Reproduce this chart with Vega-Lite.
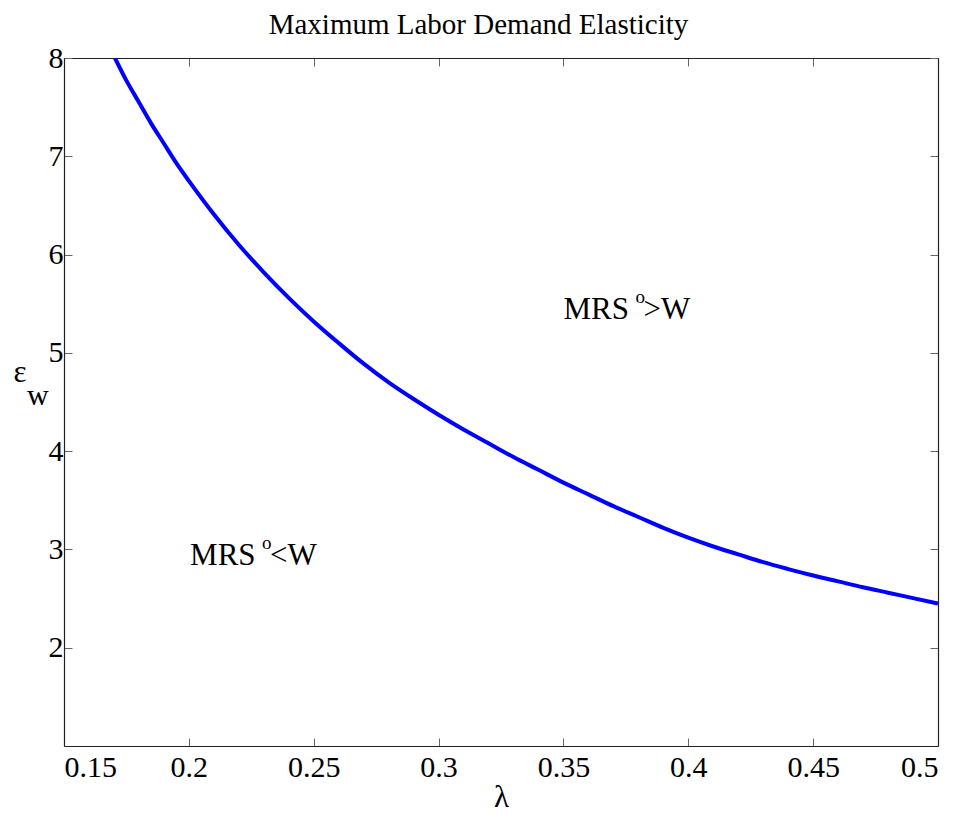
{
  "$schema": "https://vega.github.io/schema/vega-lite/v6.json",
  "width": 874,
  "height": 688,
  "autosize": {"type": "none"},
  "padding": {"left": 64, "top": 58, "right": 23, "bottom": 77},
  "background": "white",
  "config": {
    "view": {"stroke": null},
    "axis": {
      "grid": false,
      "domainColor": "#222",
      "domainWidth": 1.2,
      "tickColor": "#666",
      "tickWidth": 1,
      "tickSize": -8,
      "labelFont": "Liberation Serif",
      "labelFontSize": 30,
      "labelColor": "black",
      "titleFont": "Liberation Serif",
      "titleFontSize": 31,
      "titleFontWeight": "normal",
      "titleColor": "black"
    }
  },
  "datasets": {
    "curve": [
      {"lam": 0.1704, "eps": 8.0},
      {"lam": 0.175, "eps": 7.77},
      {"lam": 0.18, "eps": 7.55},
      {"lam": 0.185, "eps": 7.33},
      {"lam": 0.19, "eps": 7.13},
      {"lam": 0.195, "eps": 6.93},
      {"lam": 0.2, "eps": 6.75},
      {"lam": 0.21, "eps": 6.41},
      {"lam": 0.22, "eps": 6.1},
      {"lam": 0.23, "eps": 5.82},
      {"lam": 0.24, "eps": 5.56},
      {"lam": 0.25, "eps": 5.32},
      {"lam": 0.26, "eps": 5.1},
      {"lam": 0.27, "eps": 4.89},
      {"lam": 0.28, "eps": 4.7},
      {"lam": 0.29, "eps": 4.53},
      {"lam": 0.3, "eps": 4.37},
      {"lam": 0.31, "eps": 4.22},
      {"lam": 0.32, "eps": 4.08},
      {"lam": 0.33, "eps": 3.94},
      {"lam": 0.34, "eps": 3.81},
      {"lam": 0.35, "eps": 3.68},
      {"lam": 0.36, "eps": 3.56},
      {"lam": 0.37, "eps": 3.44},
      {"lam": 0.38, "eps": 3.33},
      {"lam": 0.39, "eps": 3.22},
      {"lam": 0.4, "eps": 3.12},
      {"lam": 0.41, "eps": 3.03},
      {"lam": 0.42, "eps": 2.95},
      {"lam": 0.43, "eps": 2.87},
      {"lam": 0.44, "eps": 2.8},
      {"lam": 0.45, "eps": 2.735},
      {"lam": 0.46, "eps": 2.675},
      {"lam": 0.47, "eps": 2.615},
      {"lam": 0.48, "eps": 2.56},
      {"lam": 0.49, "eps": 2.505},
      {"lam": 0.5, "eps": 2.45}
    ],
    "labels": [
      {"lam": 0.35, "eps": 5.345, "a": "MRS", "b": "o", "c": ">W"},
      {"lam": 0.2005, "eps": 2.84, "a": "MRS", "b": "o", "c": "<W"}
    ],
    "sub": [
      {"lam": 0.15, "eps": 4.47, "t": "w"}
    ]
  },
  "resolve": {"axis": {"x": "independent", "y": "independent"}},
  "layer": [
    {
      "data": {"name": "curve"},
      "mark": {"type": "line", "color": "#0000FF", "strokeWidth": 4, "clip": true, "interpolate": "monotone"},
      "encoding": {
        "x": {
          "field": "lam", "type": "quantitative",
          "scale": {"domain": [0.15, 0.5], "nice": false, "zero": false},
          "axis": {
            "orient": "bottom",
            "values": [0.15, 0.2, 0.25, 0.3, 0.35, 0.4, 0.45, 0.5],
            "format": ".2~f",
            "labelPadding": 14,
            "title": "λ",
            "titlePadding": 0
          }
        },
        "y": {
          "field": "eps", "type": "quantitative",
          "scale": {"domain": [1, 8], "nice": false, "zero": false},
          "axis": {
            "orient": "left",
            "values": [2, 3, 4, 5, 6, 7, 8],
            "format": "d",
            "labelPadding": 9,
            "title": "ε",
            "titleAngle": 0,
            "titleAlign": "left",
            "titleBaseline": "alphabetic",
            "titleX": -51,
            "titleY": 323
          }
        }
      }
    },
    {
      "data": {"name": "labels"},
      "mark": {"type": "text", "font": "Liberation Serif", "fontSize": 31, "align": "left", "baseline": "alphabetic", "color": "black"},
      "encoding": {
        "x": {
          "field": "lam", "type": "quantitative",
          "axis": {
            "orient": "top",
            "values": [0.15, 0.2, 0.25, 0.3, 0.35, 0.4, 0.45, 0.5],
            "labels": false,
            "title": "Maximum Labor Demand Elasticity",
            "titleFontSize": 29,
            "titleAlign": "center",
            "titleBaseline": "alphabetic",
            "titleX": 414,
            "titleY": -25
          }
        },
        "y": {
          "field": "eps", "type": "quantitative",
          "axis": {"orient": "right", "values": [2, 3, 4, 5, 6, 7, 8], "labels": false, "title": null}
        },
        "text": {"field": "a"}
      }
    },
    {
      "data": {"name": "labels"},
      "mark": {"type": "text", "font": "Liberation Serif", "fontSize": 19, "align": "left", "baseline": "alphabetic", "color": "black", "dx": 72, "dy": -16},
      "encoding": {
        "x": {"field": "lam", "type": "quantitative", "axis": null},
        "y": {"field": "eps", "type": "quantitative", "axis": null},
        "text": {"field": "b"}
      }
    },
    {
      "data": {"name": "labels"},
      "mark": {"type": "text", "font": "Liberation Serif", "fontSize": 31, "align": "left", "baseline": "alphabetic", "color": "black", "dx": 80},
      "encoding": {
        "x": {"field": "lam", "type": "quantitative", "axis": null},
        "y": {"field": "eps", "type": "quantitative", "axis": null},
        "text": {"field": "c"}
      }
    },
    {
      "data": {"name": "sub"},
      "mark": {"type": "text", "font": "Liberation Serif", "fontSize": 30, "align": "left", "baseline": "alphabetic", "color": "black", "dx": -37},
      "encoding": {
        "x": {"field": "lam", "type": "quantitative", "axis": null},
        "y": {"field": "eps", "type": "quantitative", "axis": null},
        "text": {"field": "t"}
      }
    }
  ]
}
